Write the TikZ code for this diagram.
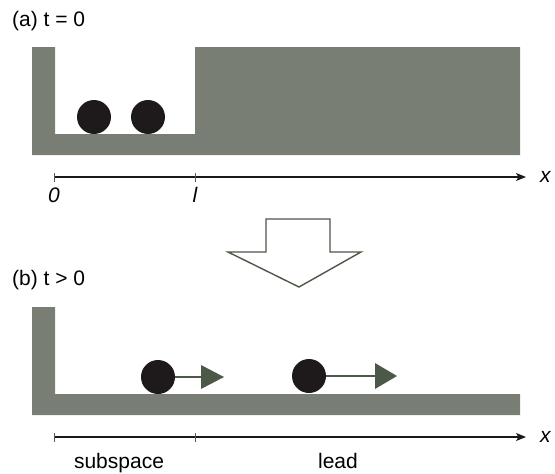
\documentclass[tikz,border=0pt]{standalone}
\usepackage{fontspec}
\setmainfont{Liberation Sans}
\usetikzlibrary{arrows.meta}
\begin{document}
\begin{tikzpicture}[x=1pt,y=-1pt]
\definecolor{wall}{RGB}{120,126,116}
\definecolor{tipc}{RGB}{76,88,72}
\definecolor{ballc}{RGB}{30,26,28}
\tikzset{
  wallfill/.style={fill=wall, draw=none},
  ballst/.style={circle, fill=ballc, draw=none, minimum size=34pt, inner sep=0pt},
  lbl/.style={font=\fontsize{21}{25}\selectfont, inner sep=0pt},
  axisline/.style={line width=1.1pt, draw=black!90, -{Stealth[length=10pt,width=8pt,inset=2.5pt]}},
  tickline/.style={line width=1pt, draw=black!65},
  velline/.style={line width=2pt, draw=tipc},
  veltip/.style={fill=tipc, draw=none},
  bigarrow/.style={draw=tipc, line width=1.4pt, fill=white, line join=miter}
}
\useasboundingbox (0,0) rectangle (555,474);

% ---------- (a) ----------
\node[lbl, anchor=base west] (ta) at (12,26) {(a) t = 0};
\fill[wallfill] (32,47) -- (55,47) -- (55,134) -- (195,134) -- (195,47) -- (520,47) -- (520,155) -- (32,155) -- cycle;
\node[ballst] (ba1) at (94,117) {};
\node[ballst] (ba2) at (148,117) {};

\coordinate (a0) at (54,177);
\coordinate (al) at (195,177);
\coordinate (aend) at (526,177);
\draw[axisline] (a0) -- (aend);
\draw[tickline] ([yshift=-4.5pt]a0) -- ([yshift=4.5pt]a0);
\draw[tickline] ([yshift=-4.5pt]al) -- ([yshift=4.5pt]al);
\node[lbl, anchor=base] (l0) at (54,202) {\itshape 0};
\node[lbl, anchor=base] (ll) at (195,202) {\itshape l};
\node[lbl, anchor=base west] (xa) at (540,182) {\itshape x};

% ---------- big arrow ----------
\draw[bigarrow] (266,219) -- (330,219) -- (330,252) -- (361,252) -- (299,287) -- (228,252) -- (266,252) -- cycle;

% ---------- (b) ----------
\node[lbl, anchor=base west] (tb) at (12,285) {(b) t > 0};
\fill[wallfill] (32,307) -- (55,307) -- (55,394) -- (520,394) -- (520,415) -- (32,415) -- cycle;

\node[ballst] (bb1) at (158,377) {};
\coordinate (v1) at (201,377);
\draw[velline] (bb1.east) -- (v1);
\fill[veltip] (201,365) -- (224,377) -- (201,389) -- cycle;

\node[ballst] (bb2) at (309,376) {};
\coordinate (v2) at (375,376);
\draw[velline] (bb2.east) -- (v2);
\fill[veltip] (375,363) -- (397,376) -- (375,389) -- cycle;

\coordinate (b0) at (54,437);
\coordinate (bl) at (195,437);
\coordinate (bend) at (526,437);
\draw[axisline] (b0) -- (bend);
\draw[tickline] ([yshift=-4.5pt]b0) -- ([yshift=4.5pt]b0);
\draw[tickline] ([yshift=-4.5pt]bl) -- ([yshift=4.5pt]bl);
\node[lbl, anchor=base] (sub) at (119,468) {subspace};
\node[lbl, anchor=base] (lead) at (338,468) {lead};
\node[lbl, anchor=base west] (xb) at (540,442) {\itshape x};
\end{tikzpicture}
\end{document}
